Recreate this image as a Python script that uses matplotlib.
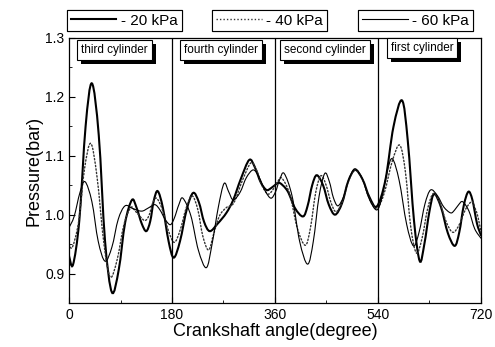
import numpy as np
import matplotlib
matplotlib.use("Agg")
import matplotlib.pyplot as plt
from matplotlib.lines import Line2D
from matplotlib.path import Path
from matplotlib.patches import PathPatch, Rectangle
from matplotlib.ticker import MultipleLocator, FormatStrFormatter

plt.rcParams['font.family'] = ['Liberation Sans', 'DejaVu Sans']

# -20 kPa (thick solid)
ang_20 = [0, 7, 18, 29, 40, 52, 63, 75, 87, 98, 110, 118, 127, 135, 142, 148, 155,
          164, 174, 183, 194, 206, 217, 227, 236, 246, 260, 275, 287, 300, 315,
          325, 335, 345, 353, 361, 368, 382, 395, 409, 417, 425, 433, 444, 454,
          465, 477, 488, 500, 513, 525, 538, 553, 567, 582, 592, 603, 613, 621,
          630, 638, 650, 662, 674, 682, 690, 698, 705, 713, 720]
p_20 = [0.930, 0.915, 0.990, 1.150, 1.223, 1.135, 0.955, 0.868, 0.907, 0.986,
        1.025, 1.012, 0.985, 0.972, 0.989, 1.023, 1.040, 1.012, 0.955, 0.927,
        0.955, 1.010, 1.037, 1.021, 0.988, 0.972, 0.985, 1.003, 1.025, 1.060,
        1.093, 1.080, 1.055, 1.042, 1.045, 1.051, 1.054, 1.040, 1.011, 0.997,
        1.015, 1.050, 1.067, 1.050, 1.017, 1.000, 1.019, 1.057, 1.076, 1.060,
        1.030, 1.014, 1.059, 1.149, 1.194, 1.126, 0.989, 0.921, 0.950, 1.006,
        1.035, 1.013, 0.969, 0.947, 0.970, 1.016, 1.039, 1.025, 0.985, 0.965]

# -40 kPa (dotted)
ang_40 = [0, 6, 17, 27, 38, 49, 61, 72, 84, 96, 108, 116, 125, 133, 140, 146, 153,
          163, 174, 184, 194, 205, 215, 225, 234, 244, 253, 263, 275, 288, 303,
          318, 328, 338, 348, 356, 364, 372, 386, 399, 413, 422, 431, 440, 449,
          458, 467, 478, 489, 500, 513, 525, 538, 551, 565, 578, 588, 597, 607,
          617, 627, 637, 648, 660, 671, 682, 693, 704, 710, 715, 720]
p_40 = [0.950, 0.945, 0.989, 1.077, 1.121, 1.064, 0.951, 0.894, 0.923, 0.983,
        1.012, 1.006, 0.996, 0.990, 0.999, 1.019, 1.028, 1.009, 0.972, 0.953,
        0.973, 1.012, 1.032, 1.009, 0.963, 0.940, 0.968, 0.998, 1.012, 1.020,
        1.058, 1.088, 1.075, 1.048, 1.035, 1.042, 1.055, 1.062, 1.034, 0.977,
        0.948, 0.978, 1.037, 1.066, 1.051, 1.020, 1.005, 1.023, 1.058, 1.076,
        1.060, 1.027, 1.010, 1.037, 1.091, 1.118, 1.072, 0.981, 0.935, 0.960,
        1.011, 1.036, 1.020, 0.986, 0.970, 0.983, 1.009, 1.022, 1.010, 0.995,
        0.970]

# -60 kPa (thin solid)
ang_60 = [0, 9, 19, 28, 40, 51, 63, 75, 86, 98, 112, 127, 138, 150, 159, 168, 177,
          184, 192, 199, 213, 226, 240, 250, 261, 271, 279, 287, 299, 310, 322,
          332, 343, 353, 361, 368, 376, 390, 403, 417, 427, 437, 447, 455, 462,
          470, 480, 490, 500, 513, 525, 538, 547, 556, 565, 577, 590, 602, 612,
          622, 632, 644, 655, 667, 674, 681, 688, 699, 709, 720]
p_60 = [0.978, 0.997, 1.037, 1.056, 1.022, 0.955, 0.921, 0.945, 0.992, 1.015,
        1.010, 1.006, 1.011, 1.017, 1.008, 0.992, 0.983, 0.994, 1.017, 1.028,
        0.998, 0.940, 0.910, 0.950, 1.013, 1.053, 1.039, 1.025, 1.038, 1.063,
        1.076, 1.064, 1.040, 1.028, 1.039, 1.059, 1.070, 1.031, 0.955, 0.916,
        0.955, 1.031, 1.070, 1.056, 1.029, 1.015, 1.031, 1.062, 1.078, 1.060,
        1.026, 1.008, 1.030, 1.073, 1.095, 1.058, 0.984, 0.947, 0.971, 1.018,
        1.042, 1.032, 1.013, 1.003, 1.008, 1.017, 1.022, 1.006, 0.976, 0.960]

cylinders = ["third cylinder", "fourth cylinder", "second cylinder", "first cylinder"]
cyl_x = [80, 266, 448, 617]
cyl_y = [1.279, 1.279, 1.279, 1.283]
bounds = [180, 360, 540]
legend_labels = ["- 20 kPa", "- 40 kPa", "- 60 kPa"]


def smooth_path(xs, ys):
    # bezier path through the read points (catmull-rom control points)
    pts = np.column_stack([xs, ys]).astype(float)
    verts = [pts[0]]
    codes = [Path.MOVETO]
    n = len(pts)
    for i in range(n - 1):
        p0 = pts[max(i - 1, 0)]
        p1 = pts[i]
        p2 = pts[i + 1]
        p3 = pts[min(i + 2, n - 1)]
        verts += [p1 + (p2 - p0) / 6.0, p2 - (p3 - p1) / 6.0, p2]
        codes += [Path.CURVE4] * 3
    return Path(verts, codes)


fig = plt.figure(figsize=(4.95, 3.47), dpi=100)
ax = fig.add_axes([0.1394, 0.1268, 0.8323, 0.7637])

styles = [
    dict(color='black', lw=1.5, ls='-'),
    dict(color='#333333', lw=1.0, ls=(0, (1, 1.5))),
    dict(color='black', lw=0.8, ls='-'),
]
series = [(ang_20, p_20), (ang_40, p_40), (ang_60, p_60)]
handles = []
for (xs, ys), st in zip(series, styles):
    ax.add_patch(PathPatch(smooth_path(xs, ys), fill=False, edgecolor=st['color'],
                           lw=st['lw'], ls=st['ls'], capstyle='round'))
    handles.append(Line2D([], [], color=st['color'], lw=st['lw'], ls=st['ls']))

for b in bounds:
    ax.axvline(b, color='black', lw=0.9)

labels = []
for name, cx, cy in zip(cylinders, cyl_x, cyl_y):
    t = ax.text(cx, cy, name, ha='center', va='center', fontsize=8.5, zorder=6,
                bbox=dict(boxstyle='square,pad=0.35', fc='white', ec='black', lw=0.8))
    labels.append(t)

ax.set_xlim(0, 720)
ax.set_ylim(0.85, 1.3)
ax.set_xticks([0, 180, 360, 540, 720])
ax.set_yticks([0.9, 1.0, 1.1, 1.2, 1.3])
ax.xaxis.set_minor_locator(MultipleLocator(90))
ax.yaxis.set_minor_locator(MultipleLocator(0.05))
ax.yaxis.set_major_formatter(FormatStrFormatter('%.1f'))
ax.tick_params(which='both', direction='in', labelsize=10)
ax.tick_params(which='major', length=4)
ax.tick_params(which='minor', length=2)
for s in ax.spines.values():
    s.set_linewidth(0.9)

ax.set_xlabel("Crankshaft angle(degree)", fontsize=13, labelpad=1)
ax.set_ylabel("Pressure(bar)", fontsize=13, labelpad=2)

# three separate legend boxes above the plot
leg_x = [0.135, 0.428, 0.723]
for h, lab, lx in zip(handles, legend_labels, leg_x):
    leg = fig.legend([h], [lab], loc='upper left', bbox_to_anchor=(lx, 0.972),
                     fontsize=11, frameon=True, fancybox=False, edgecolor='black',
                     framealpha=1, handlelength=3.0, handletextpad=0.3,
                     borderpad=0.25, borderaxespad=0)
    leg.get_frame().set_linewidth(0.8)
    fig.add_artist(leg)

# black drop shadows behind the cylinder boxes (inside the axes, under the boxes)
fig.canvas.draw()
to_axes = ax.transAxes.inverted()
for t in labels:
    bb = t.get_bbox_patch().get_window_extent()
    (x0, y0), (x1, y1) = to_axes.transform([[bb.x0 + 4, bb.y0 - 4],
                                            [bb.x1 + 4, bb.y1 - 4]])
    ax.add_patch(Rectangle((x0, y0), x1 - x0, y1 - y0, transform=ax.transAxes,
                           facecolor='black', edgecolor='none', zorder=5))

fig.savefig("out.png", dpi=100)
